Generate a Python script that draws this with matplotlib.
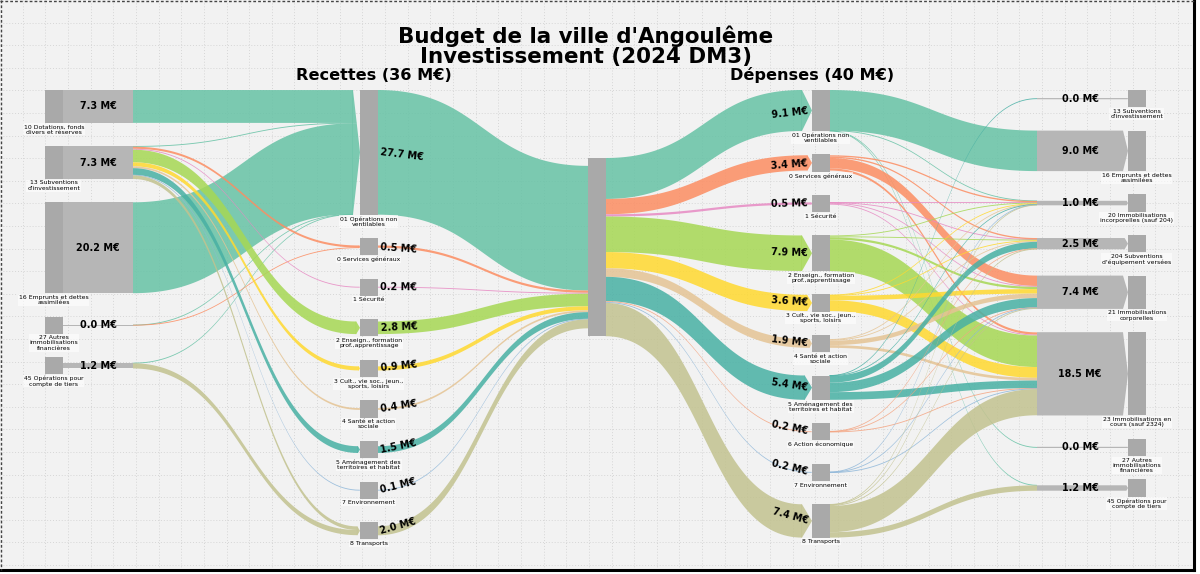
import numpy as np
import matplotlib.pyplot as plt
from matplotlib.patches import Polygon, Rectangle

# ---- data (M€) ----
# recettes : nature -> fonction
rec_nature = ["10 Dotations, fonds\ndivers et réserves", "13 Subventions\nd'investissement",
              "16 Emprunts et dettes\nassimilées", "27 Autres\nimmobilisations\nfinancières",
              "45 Opérations pour\ncompte de tiers"]
rec_nature_val = [7.3, 7.3, 20.2, 0.0, 1.2]

rec_codes = ["01", "0", "1", "2", "3", "4", "5", "7", "8"]
rec_func = ["01 Opérations non\nventilables", "0 Services généraux", "1 Sécurité",
            "2 Enseign., formation\nprof.,apprentissage", "3 Cult., vie soc., jeun.,\nsports, loisirs",
            "4 Santé et action\nsociale", "5 Aménagement des\nterritoires et habitat",
            "7 Environnement", "8 Transports"]
rec_func_val = [27.7, 0.5, 0.2, 2.8, 0.9, 0.4, 1.5, 0.1, 2.0]

# rows: nature, cols: fonction
rec_flows = [
    [7.3, 0, 0, 0, 0, 0, 0, 0, 0],
    [0.1, 0.47, 0.2, 2.8, 0.9, 0.4, 1.5, 0.1, 0.8],
    [20.2, 0, 0, 0, 0, 0, 0, 0, 0],
    [0.02, 0.03, 0, 0, 0, 0, 0, 0, 0],
    [0.05, 0, 0, 0, 0, 0, 0, 0, 1.15],
]

# dépenses : fonction -> nature
dep_codes = ["01", "0", "1", "2", "3", "4", "5", "6", "7", "8"]
dep_func = ["01 Opérations non\nventilables", "0 Services généraux", "1 Sécurité",
            "2 Enseign., formation\nprof.,apprentissage", "3 Cult., vie soc., jeun.,\nsports, loisirs",
            "4 Santé et action\nsociale", "5 Aménagement des\nterritoires et habitat",
            "6 Action économique", "7 Environnement", "8 Transports"]
dep_func_val = [9.1, 3.4, 0.5, 7.9, 3.6, 1.9, 5.4, 0.2, 0.2, 7.4]

dep_nature = ["13 Subventions\nd'investissement", "16 Emprunts et dettes\nassimilées",
              "20 Immobilisations\nincorporelles (sauf 204)", "204 Subventions\nd'équipement versées",
              "21 Immobilisations\ncorporelles", "23 Immobilisations en\ncours (sauf 2324)",
              "27 Autres\nimmobilisations\nfinancières", "45 Opérations pour\ncompte de tiers"]
dep_nature_val = [0.0, 9.0, 1.0, 2.5, 7.4, 18.5, 0.0, 1.2]

# rows: fonction, cols: nature
dep_flows = [
    [0, 9.0, 0.04, 0, 0, 0, 0.03, 0.03],
    [0, 0, 0.3, 0.3, 2.3, 0.5, 0, 0],
    [0, 0, 0.05, 0.05, 0.2, 0.2, 0, 0],
    [0, 0, 0.2, 0.2, 0.5, 7.0, 0, 0],
    [0, 0, 0.1, 0.1, 1.0, 2.4, 0, 0],
    [0, 0, 0.1, 0.2, 1.0, 0.6, 0, 0],
    [0.02, 0, 0.08, 1.5, 2.1, 1.7, 0, 0],
    [0, 0, 0, 0.05, 0.05, 0.1, 0, 0],
    [0, 0, 0.05, 0, 0.05, 0.1, 0, 0],
    [0, 0, 0.08, 0.1, 0.2, 5.82, 0, 1.2],
]

func_colors = {"01": "#66c2a5", "0": "#fc8d62", "1": "#e78ac3", "2": "#a6d854",
               "3": "#ffd92f", "4": "#e5c494", "5": "#48b0a4", "6": "#f4a582",
               "7": "#8fb7d9", "8": "#c2c28f"}

# ---- layout (pixels) ----
K = 4.5        # px per M€
MINH = 17.3
GAP = 23.3
TOP = 90
NODE_C = "#a9a9a9"
BAND_C = "#b6b6b6"
X0, X1, X2, X3, X4 = 45, 360, 588, 812, 1128
NW = 17.5
ALPHA = 0.85
VFS = 6.9      # value labels
LFS = 4.4      # node labels

fig = plt.figure(figsize=(12, 5.74), dpi=100)
fig.patch.set_facecolor("white")
ax = fig.add_axes([0, 0, 1, 1])
ax.set_xlim(0, 1200)
ax.set_ylim(574, 0)
ax.axis("off")

ax.add_patch(Rectangle((0, 0), 1193, 569, facecolor="#f2f2f2", edgecolor="none", zorder=0))
for gx in np.arange(22.65, 1193, 22.65):
    ax.plot([gx, gx], [0, 569], color="#d6d6d6", lw=0.7, ls=(0, (1, 2)), zorder=0.5)
for gy in np.arange(22.6, 569, 22.6):
    ax.plot([0, 1193], [gy, gy], color="#d6d6d6", lw=0.7, ls=(0, (1, 2)), zorder=0.5)
ax.plot([1193.5, 1193.5], [0, 570], color="black", lw=2.2, zorder=10)
ax.plot([0, 1194], [569.5, 569.5], color="black", lw=2.2, zorder=10)
ax.plot([0.8, 0.8], [0, 570], color="#444444", lw=1, ls=(0, (2, 1.5)), zorder=10)
ax.plot([0, 1194], [0.8, 0.8], color="#444444", lw=1, ls=(0, (2, 1.5)), zorder=10)


def stack(vals, top=TOP):
    tops, hs = [], []
    y = top
    for v in vals:
        h = max(v * K, MINH)
        tops.append(y)
        hs.append(h)
        y += h + GAP
    return tops, hs


def thick(a, b, mn=0.9):
    if b - a < mn:
        m = (a + b) / 2
        return m - mn / 2, m + mn / 2
    return a, b


def band(xa, xb, a0, b0, a1, b1, color, z=2):
    a0, b0 = thick(a0, b0)
    a1, b1 = thick(a1, b1)
    t = np.linspace(0, 1, 80)
    x = xa + (xb - xa) * (1.5 * t * (1 - t) + t ** 3)
    s = 3 * t ** 2 - 2 * t ** 3
    top = a0 + (a1 - a0) * s
    bot = b0 + (b1 - b0) * s
    pts = np.vstack([np.column_stack([x, top]), np.column_stack([x[::-1], bot[::-1]])])
    ax.add_patch(Polygon(pts, closed=True, facecolor=color, edgecolor="none", alpha=ALPHA, zorder=z))


def tip(xe, L, T, B, pieces, z=2):
    # arrow tip for a group of inflows ending at x = xe
    M = (T + B) / 2
    half = (B - T) / 2
    if half < 0.8:
        return
    for ya, yb, col in pieces:
        ya, yb = thick(ya, yb)
        pts = [(xe - L - 0.5, ya), (xe - L * abs(ya - M) / half, ya)]
        if ya < M < yb:
            pts.append((xe, M))
        pts += [(xe - L * abs(yb - M) / half, yb), (xe - L - 0.5, yb)]
        ax.add_patch(Polygon(pts, closed=True, facecolor=col, edgecolor="none", alpha=ALPHA, zorder=z))


def node(x, top, h):
    ax.add_patch(Rectangle((x, top), NW, h, facecolor=NODE_C, edgecolor="none", zorder=4))


def node_label(xc, y, txt):
    ax.text(xc, y + 1.5, txt, ha="center", va="top", fontsize=LFS, linespacing=1.05, zorder=6,
            bbox=dict(facecolor="white", alpha=0.6, edgecolor="none", pad=0.6))


def val(v):
    return f"{v:.1f} M€"


t0, h0 = stack(rec_nature_val)
t1, h1 = stack(rec_func_val)
t3, h3 = stack(dep_func_val)
t4, h4 = stack(dep_nature_val)
CTOP = 158
CH = max(sum(rec_func_val), sum(dep_func_val)) * K

# ---- recettes: nature -> fonction ----
out_y = []
for i, row in enumerate(rec_flows):
    y = t0[i] + (h0[i] - sum(row) * K) / 2
    ys = []
    for f in row:
        ys.append((y, y + f * K))
        y += f * K
    out_y.append(ys)
in_y = []
for j in range(len(rec_func_val)):
    col = [rec_flows[i][j] for i in range(len(rec_flows))]
    y = t1[j] + (h1[j] - sum(col) * K) / 2
    ys = []
    for f in col:
        ys.append((y, y + f * K))
        y += f * K
    in_y.append(ys)

for j in range(len(rec_func_val)):
    colr = func_colors[rec_codes[j]]
    pieces = []
    for i in range(len(rec_flows)):
        if rec_flows[i][j] <= 0:
            continue
        pieces.append((in_y[j][i][0], in_y[j][i][1], colr))
    T = min(p[0] for p in pieces)
    B = max(p[1] for p in pieces)
    L = min(0.3 * (B - T), 7)
    for i in range(len(rec_flows)):
        if rec_flows[i][j] <= 0:
            continue
        (a0, b0), (a1, b1) = out_y[i][j], in_y[j][i]
        band(133, X1 - L, a0, b0, a1, b1, colr)
    tip(X1, L, T, B, pieces)

# bands + nodes of column 0
for i, v in enumerate(rec_nature_val):
    c = t0[i] + h0[i] / 2
    a, b = thick(c - v * K / 2, c + v * K / 2, 1.2)
    ax.add_patch(Rectangle((X0 + NW, a), 133 - X0 - NW, b - a, facecolor=BAND_C, edgecolor="none", zorder=3))
    node(X0, t0[i], h0[i])
    ax.text(98, c, val(v), ha="center", va="center", fontsize=VFS, weight="bold", zorder=6)
    node_label(X0 + NW / 2, t0[i] + h0[i], rec_nature[i])

# ---- recettes fonction -> centre ----
y = CTOP + (CH - sum(rec_func_val) * K) / 2
for j, v in enumerate(rec_func_val):
    c = t1[j] + h1[j] / 2
    a1, b1 = y, y + v * K
    band(X1 + NW, X2, c - v * K / 2, c + v * K / 2, a1, b1, func_colors[rec_codes[j]])
    y += v * K
    ang = -np.degrees(np.arctan2((a1 + b1) / 2 - c, X2 - X1 - NW)) * 0.35
    node(X1, t1[j], h1[j])
    ax.text(X1 + NW + 3, c, val(v), ha="left", va="center", fontsize=VFS, weight="bold",
            rotation=ang, rotation_mode="anchor", zorder=6)
    node_label(X1 + NW / 2, t1[j] + h1[j], rec_func[j])

# ---- centre -> dépenses fonction ----
y = CTOP
for j, v in enumerate(dep_func_val):
    c = t3[j] + h3[j] / 2
    a0, b0 = y, y + v * K
    colr = func_colors[dep_codes[j]]
    L = min(0.3 * v * K, 10)
    band(X2 + NW, X3 - L, a0, b0, c - v * K / 2, c + v * K / 2, colr)
    tip(X3, L, c - v * K / 2, c + v * K / 2, [(c - v * K / 2, c + v * K / 2, colr)])
    y += v * K
    ang = -np.degrees(np.arctan2(c - (a0 + b0) / 2, X3 - X2 - NW)) * 0.35
    ax.text(X3 - 4, c, val(v), ha="right", va="center", fontsize=VFS, weight="bold",
            rotation=ang, rotation_mode="anchor", zorder=6)

ax.add_patch(Rectangle((X2, CTOP), NW, CH, facecolor=NODE_C, edgecolor="none", zorder=4))

# ---- dépenses fonction -> nature ----
out_y = []
for i, row in enumerate(dep_flows):
    y = t3[i] + (h3[i] - sum(row) * K) / 2
    ys = []
    for f in row:
        ys.append((y, y + f * K))
        y += f * K
    out_y.append(ys)
in_y = []
for j in range(len(dep_nature_val)):
    col = [dep_flows[i][j] for i in range(len(dep_flows))]
    y = t4[j] + (h4[j] - sum(col) * K) / 2
    ys = []
    for f in col:
        ys.append((y, y + f * K))
        y += f * K
    in_y.append(ys)

XB = 1037
for i in range(len(dep_flows)):
    for j in range(len(dep_nature_val)):
        f = dep_flows[i][j]
        if f <= 0:
            continue
        (a0, b0), (a1, b1) = out_y[i][j], in_y[j][i]
        band(X3 + NW, XB, a0, b0, a1, b1, func_colors[dep_codes[i]])

for j, v in enumerate(dep_func_val):
    node(X3, t3[j], h3[j])
    node_label(X3 + NW / 2, t3[j] + h3[j], dep_func[j])

for j, v in enumerate(dep_nature_val):
    c = t4[j] + h4[j] / 2
    a, b = thick(c - v * K / 2, c + v * K / 2, 1.2)
    L = min(0.3 * (b - a), 5)
    pts = [(XB, a), (X4 - L, a), (X4, c), (X4 - L, b), (XB, b)]
    ax.add_patch(Polygon(pts, closed=True, facecolor=BAND_C, edgecolor="none", zorder=3))
    node(X4, t4[j], h4[j])
    ax.text(1080, c, val(v), ha="center", va="center", fontsize=VFS, weight="bold", zorder=6)
    node_label(X4 + NW / 2, t4[j] + h4[j], dep_nature[j])

# ---- titres ----
ax.text(586, 46, "Budget de la ville d'Angoulême\nInvestissement (2024 DM3)", ha="center", va="center",
        fontsize=15.4, weight="bold", linespacing=1.0, zorder=7)
ax.text(374, 75, f"Recettes ({sum(rec_nature_val):.0f} M€)", ha="center", va="center",
        fontsize=11.6, weight="bold", zorder=7)
ax.text(812, 75, f"Dépenses ({sum(dep_nature_val):.0f} M€)", ha="center", va="center",
        fontsize=11.6, weight="bold", zorder=7)

fig.savefig("out.png", dpi=100, facecolor=fig.get_facecolor())
